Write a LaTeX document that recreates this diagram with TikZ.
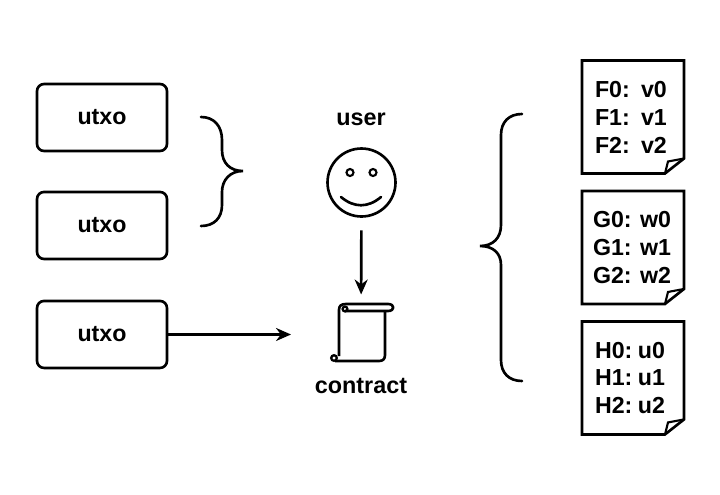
\documentclass[tikz,border=0pt]{standalone}
\usepackage{fontspec}
\setmainfont{Liberation Sans}
\usetikzlibrary{arrows.meta}
\usetikzlibrary{positioning}
\newcommand{\rowtext}[3]{\makebox[#1][l]{#2}#3}
\begin{document}
\begin{tikzpicture}
[x=0.02cm,y=-0.02cm,line width=1.5pt,>={Stealth[length=.3cm,width=.26cm]},%
  utxobox/.style={draw,rounded corners=.14cm,minimum width=2.6cm,minimum height=1.34cm,
    inner sep=0pt,outer sep=0pt,font=\fontsize{13.2}{15}\selectfont\bfseries},
  docbox/.style={minimum width=2.04cm,minimum height=2.26cm,text width=1.52cm,inner xsep=.26cm,
    inner ysep=0pt,outer sep=0pt,align=left,font=\fontsize{13.2}{15.9}\selectfont\bfseries},
  caption/.style={inner sep=0pt,font=\fontsize{13.3}{15}\selectfont\bfseries}]
\fill[white] (0,0) rectangle (720,494);
\useasboundingbox (0,0) rectangle (720,494);
%% utxo boxes
\node[utxobox] (u1) at (102,117.5) {utxo};
\node[utxobox] (u2) [below=.82cm of u1] {utxo};
\node[utxobox] (u3) [below=.84cm of u2] {utxo};
%% user and contract
\node[draw,circle,minimum size=1.36cm,inner sep=0pt,outer sep=0pt] (face) at (361.5,182.5) {};
\node[caption] (user) at (361,119) {user};
\node[minimum width=1.06cm,minimum height=1.16cm,inner sep=0pt,outer sep=0pt] (scroll) at (361,334.5) {};
\node[caption] (contract) at (361,386) {contract};
%% face details
\draw[line width=1.2pt] (350,172.5) circle (3.5);
\draw[line width=1.2pt] (373,172.5) circle (3.5);
\draw[line cap=round] (341,197) .. controls (354,208) and (368,208) .. (381,197);
%% scroll
\draw[line join=round] (345,311) -- (388,311) .. controls (395,311) and (395,304) .. (388,304) -- (346,304);
\draw (346,304) .. controls (341,304) and (339,306) .. (339,310) -- (339,356);
\draw (385,311) -- (385,355) .. controls (385,359) and (383,361) .. (379,361) -- (335,361);
\draw[line width=1.3pt] (345,309) circle (2.4);
\draw[line width=1.3pt] (334,358) circle (2.8);
%% doc sheets
\node[docbox] (f) at (633,117) {\rowtext{.92cm}{F0:}{v0}\\\rowtext{.92cm}{F1:}{v1}\\\rowtext{.92cm}{F2:}{v2}};
\node[docbox] (g) [below=.35cm of f] {\rowtext{.9cm}{\hspace*{-.04cm}G0:}{w0}\\\rowtext{.9cm}{\hspace*{-.04cm}G1:}{w1}\\\rowtext{.9cm}{\hspace*{-.04cm}G2:}{w2}};
\node[docbox] (h) [below=.35cm of g] {\rowtext{.86cm}{H0:}{u0}\\\rowtext{.86cm}{H1:}{u1}\\\rowtext{.86cm}{H2:}{u2}};
\foreach \n in {f,g,h} {
  \draw (\n.north west) -- (\n.north east) -- ([yshift=.3cm]\n.south east)
    -- ([xshift=-.38cm]\n.south east) -- (\n.south west) -- cycle;
  \draw[line width=1.2pt] ([yshift=.3cm]\n.south east)
    -- ([shift={(-.32cm,.24cm)}]\n.south east) -- ([xshift=-.38cm]\n.south east);
}
%% braces
\draw[line cap=round] (201,117) .. controls (214,117) and (222,126) .. (222,140) -- (222,150)
  .. controls (222,163) and (230,171) .. (243,171)
  .. controls (230,171) and (222,180) .. (222,192) -- (222,205)
  .. controls (222,218) and (214,226) .. (201,226);
\draw[line cap=round] (522,114) .. controls (509,114) and (501,122) .. (501,135) -- (501,225)
  .. controls (501,238) and (493,246) .. (480,246)
  .. controls (493,246) and (501,253) .. (501,265) -- (501,360)
  .. controls (501,373) and (509,381) .. (522,381);
%% arrows
\path[->]
(u3) edge[shorten >=.87cm] (scroll)
(face) edge[shorten <=.28cm,shorten >=.22cm] (scroll);
\end{tikzpicture}
\end{document}
